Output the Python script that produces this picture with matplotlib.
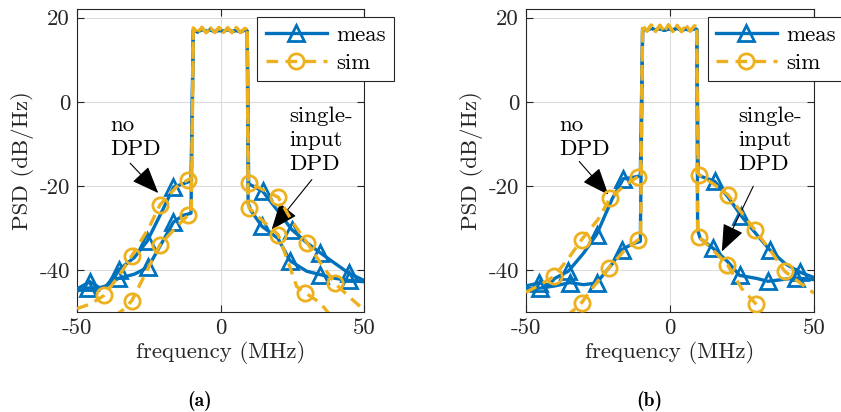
import numpy as np
import matplotlib
matplotlib.use('Agg')
import matplotlib.pyplot as plt

plt.rcParams['font.family'] = 'cmr10'
plt.rcParams['axes.unicode_minus'] = False
plt.rcParams['mathtext.fontset'] = 'cm'

BLUE = '#0072BD'
ORANGE = '#EDB120'
FS = 16.5

# passband values (MHz, dB/Hz)
pb_f = [-9.5, -8.0, -6.5, -5.0, -3.5, -2.0, -0.5, 1.0, 2.5, 4.0, 5.5, 7.0, 8.5, 9.3]
pb_meas_a = [17.0, 16.6, 17.2, 16.8, 17.1, 16.7, 17.0, 16.8, 17.2, 16.7, 17.0, 16.6, 17.1, 16.8]
pb_sim_a = [17.6, 16.5, 17.7, 16.4, 17.6, 16.5, 17.7, 16.5, 17.6, 16.4, 17.7, 16.5, 17.5, 17.2]
pb_meas_b = [17.4, 17.0, 17.5, 17.1, 17.4, 17.0, 17.3, 17.1, 17.5, 17.0, 17.3, 17.0, 17.4, 17.2]
pb_sim_b = [18.2, 16.8, 18.3, 16.7, 18.2, 16.8, 18.3, 16.7, 18.2, 16.7, 18.3, 16.8, 18.1, 17.8]

# ---- (a) ----
# meas, no DPD
a_mn_lf = [-50, -45.5, -42, -40, -35.5, -30, -25.6, -20, -16.4, -13, -10.3]
a_mn_lp = [-44.5, -42.8, -44.3, -44.0, -40.0, -37.0, -33.2, -25.5, -20.3, -19.5, -18.8]
a_mn_rf = [9.8, 14.7, 20, 24.8, 30, 34.7, 40, 44.8, 50]
a_mn_rp = [-19.5, -21.3, -26.0, -30.4, -33.5, -35.9, -38.5, -40.8, -42.5]
# meas, single-input DPD
a_md_lf = [-50, -46.3, -42, -40, -35.6, -30, -25.2, -20, -16.4, -13, -10.3]
a_md_lp = [-45.0, -44.3, -44.2, -43.8, -42.0, -41.0, -39.3, -33.0, -28.6, -27.0, -26.5]
a_md_rf = [9.6, 10.5, 14.4, 20, 24.2, 30, 34.7, 40, 44.8, 50]
a_md_rp = [-24.0, -25.8, -29.6, -32.5, -37.8, -40.3, -41.1, -42.0, -42.5, -42.8]
# sim, no DPD
a_sn_lf = [-50, -45, -40.5, -35, -30.9, -25, -21.1, -15, -11.2, -10.0]
a_sn_lp = [-49.2, -48.0, -46.0, -41.0, -36.6, -30.0, -24.5, -20.0, -18.5, -18.2]
a_sn_rf = [9.7, 10.0, 15, 20.1, 25, 30.2, 35, 39.9, 45, 50]
a_sn_rp = [-18.5, -19.2, -21.0, -22.7, -28.5, -33.6, -38.5, -43.2, -46.5, -49.5]
# sim, single-input DPD
a_sd_lf = [-37, -34, -30.9, -27, -21.1, -15, -11.2, -10.2]
a_sd_lp = [-51, -49.5, -47.3, -42.0, -34.0, -29.5, -26.9, -26.5]
a_sd_rf = [9.6, 10.0, 15, 20.1, 24, 26.5, 29.4, 34.7, 38.5]
a_sd_rp = [-24.5, -25.3, -28.5, -31.6, -39.0, -43.9, -45.4, -47.8, -51]

# ---- (b) ----
b_mn_lf = [-50, -45.5, -42, -40, -35.3, -30, -25.5, -20, -16.2, -13, -10.3]
b_mn_lp = [-43.8, -43.1, -43.6, -42.0, -40.3, -36.0, -31.6, -23.0, -18.3, -18.0, -17.6]
b_mn_rf = [9.8, 15.5, 20, 24.8, 30, 34.6, 40, 45, 50]
b_mn_rp = [-17.5, -18.9, -22.5, -27.2, -31.5, -35.2, -38.5, -40.5, -41.8]
b_md_lf = [-50, -45.0, -40, -34.7, -30, -25.5, -20, -16.8, -13, -10.3]
b_md_lp = [-44.5, -44.3, -43.8, -43.0, -43.5, -43.1, -38.5, -35.2, -33.8, -33.2]
b_md_rf = [9.6, 10.5, 14.9, 20, 24.2, 30, 34, 40, 43.8, 50]
b_md_rp = [-30.5, -32.5, -34.8, -38.0, -41.3, -42.0, -42.7, -42.2, -41.9, -42.3]
b_sn_lf = [-50, -45, -40.2, -35, -30.7, -25, -20.8, -15, -11.2, -10.2]
b_sn_lp = [-45.3, -43.5, -41.5, -37.0, -32.8, -28.0, -22.9, -19.5, -17.9, -17.6]
b_sn_rf = [9.8, 10.0, 15, 20.1, 25, 29.6, 35, 39.8, 45, 50]
b_sn_rp = [-17.0, -17.3, -19.5, -22.1, -26.5, -30.6, -35.5, -40.3, -43.0, -45.5]
b_sd_lf = [-36, -33, -30.7, -26, -21.2, -16, -11.0, -10.2]
b_sd_lp = [-51, -49.3, -47.8, -43.5, -39.5, -35.5, -32.8, -32.5]
b_sd_rf = [9.6, 10.0, 15, 19.9, 25, 30, 32.5]
b_sd_rp = [-31.0, -32.1, -35.3, -38.7, -44.5, -48.2, -51]

# marker frequencies per curve
a_mn_mk = [-45.5, -35.5, -25.6, -16.4, 14.7, 24.8, 34.7, 44.8]
a_md_mk = [-46.3, -35.6, -25.2, -16.4, 14.4, 24.2, 34.7, 44.8]
a_sn_mk = [-40.5, -30.9, -21.1, -11.2, 10.0, 20.1, 30.2, 39.9]
a_sd_mk = [-30.9, -21.1, -11.2, 10.0, 20.1, 29.4]
b_mn_mk = [-45.5, -35.3, -25.5, -16.2, 15.5, 24.8, 34.6, 45]
b_md_mk = [-45.0, -34.7, -25.5, -16.8, 14.9, 24.2, 34, 43.8]
b_sn_mk = [-40.2, -30.7, -20.8, -11.2, 10.0, 20.1, 29.6, 39.8]
b_sd_mk = [-30.7, -21.2, -11.0, 10.0, 19.9, 30]


def curve(lf, lp, pf, pp, rf, rp):
    f = np.array(lf + pf + rf, dtype=float)
    p = np.array(lp + pp + rp, dtype=float)
    return f, p


def draw(ax, f, p, mk, kind, label=None):
    idx = [int(np.argmin(np.abs(f - m))) for m in mk]
    if kind == 'meas':
        ax.plot(f, p, '-', color=BLUE, lw=2.4, marker='^', markersize=11,
                markerfacecolor='none', markeredgewidth=2.0, markevery=idx,
                label=label, zorder=3)
    else:
        ax.plot(f, p, color=ORANGE, lw=2.4, linestyle=(0, (3.5, 2.2)),
                marker='o', markersize=11, markerfacecolor='none',
                markeredgewidth=2.0, markevery=idx, label=label, zorder=4)


fig = plt.figure(figsize=(8.41, 4.12), dpi=100)
axa = fig.add_axes([0.0916, 0.2427, 0.3413, 0.7347])
axb = fig.add_axes([0.6254, 0.2427, 0.3425, 0.7347])

panels = [
    (axa, [(a_mn_lf, a_mn_lp, pb_meas_a, a_mn_rf, a_mn_rp, a_mn_mk, 'meas', 'meas'),
           (a_md_lf, a_md_lp, pb_meas_a, a_md_rf, a_md_rp, a_md_mk, 'meas', None),
           (a_sn_lf, a_sn_lp, pb_sim_a, a_sn_rf, a_sn_rp, a_sn_mk, 'sim', 'sim'),
           (a_sd_lf, a_sd_lp, pb_sim_a, a_sd_rf, a_sd_rp, a_sd_mk, 'sim', None)],
     ((-38.5, -3.2), (-31.5, -14.6), (-21.7, -21.7)),
     ((23.8, -1.0), (31.8, -18.5), (17.8, -30.4)), '(a)'),
    (axb, [(b_mn_lf, b_mn_lp, pb_meas_b, b_mn_rf, b_mn_rp, b_mn_mk, 'meas', 'meas'),
           (b_md_lf, b_md_lp, pb_meas_b, b_md_rf, b_md_rp, b_md_mk, 'meas', None),
           (b_sn_lf, b_sn_lp, pb_sim_b, b_sn_rf, b_sn_rp, b_sn_mk, 'sim', 'sim'),
           (b_sd_lf, b_sd_lp, pb_sim_b, b_sd_rf, b_sd_rp, b_sd_mk, 'sim', None)],
     ((-38.5, -3.2), (-31.5, -14.2), (-21.4, -22.1)),
     ((23.8, -1.0), (28.9, -20.1), (18.0, -35.6)), '(b)'),
]

arrow = dict(arrowstyle='-|>,head_length=1.0,head_width=0.4',
             color='k', lw=0.8, mutation_scale=17, shrinkA=0, shrinkB=0)

for ax, curves, nodpd, dpd, tag in panels:
    for lf, lp, pp, rf, rp, mk, kind, lab in curves:
        f, p = curve(lf, lp, pb_f, pp, rf, rp)
        draw(ax, f, p, mk, kind, lab)
    ax.set_xlim(-50, 50)
    ax.set_ylim(-50, 22)
    ax.set_xticks([-50, 0, 50])
    ax.set_yticks([-40, -20, 0, 20])
    ax.grid(True, color='#dcdcdc', lw=0.8)
    ax.set_axisbelow(True)
    ax.tick_params(direction='in', top=True, right=True, labelsize=FS,
                   colors='#262626', length=5, pad=5)
    for s in ax.spines.values():
        s.set_color('#262626')
        s.set_linewidth(0.8)
    ax.set_xlabel('frequency (MHz)', fontsize=FS, color='#262626', labelpad=2)
    ax.set_ylabel('PSD (dB/Hz)', fontsize=FS, color='#262626', labelpad=4)
    ax.text(nodpd[0][0], nodpd[0][1], 'no\nDPD', fontsize=FS, va='top',
            ha='left', linespacing=1.3)
    ax.annotate('', xy=nodpd[2], xytext=nodpd[1], arrowprops=arrow)
    ax.text(dpd[0][0], dpd[0][1], 'single-\ninput\nDPD', fontsize=FS, va='top',
            ha='left', linespacing=1.3)
    ax.annotate('', xy=dpd[2], xytext=dpd[1], arrowprops=arrow)
    leg = ax.legend(loc='upper right', bbox_to_anchor=(1.105, 0.976), fontsize=FS,
                    handlelength=2.7, fancybox=False, framealpha=1,
                    edgecolor='#262626', borderpad=0.35, labelspacing=0.35,
                    handletextpad=0.4, borderaxespad=0)
    leg.get_frame().set_linewidth(0.8)
    leg.set_zorder(10)
    pos = ax.get_position()
    fig.text(pos.x0 + pos.width / 2 - 0.025, 0.027, tag, family='cmb10',
             fontsize=14, ha='center', va='center')

fig.savefig('out.png', dpi=100)
